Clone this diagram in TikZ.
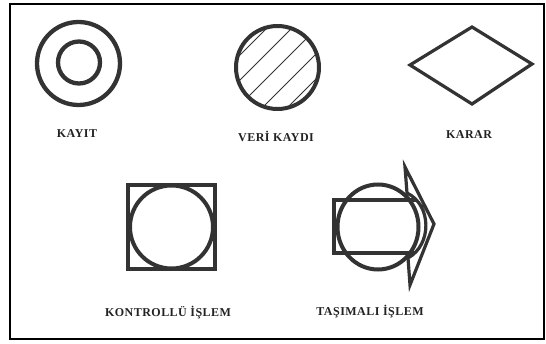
\documentclass[tikz,border=0pt]{standalone}
\usepackage{fontspec}
\setmainfont{Liberation Serif}
\definecolor{ink}{HTML}{333333}
\definecolor{txt}{HTML}{222222}
\begin{document}
\begin{tikzpicture}[x=1pt,y=-1pt,
  shp/.style={draw=ink, line width=4pt},
  thinshp/.style={draw=ink, line width=3.2pt, line join=miter},
  hatch/.style={draw=ink, line width=0.8pt},
  lbl/.style={font=\bfseries\fontsize{12}{13}\selectfont\addfontfeature{LetterSpace=4}, text=txt, inner sep=0pt}]
\useasboundingbox (0,0) rectangle (546,344);
\draw[line width=1.8pt, draw=black] (10,4) rectangle (544,339);

% KAYIT
\draw[shp, line width=4.3pt] (78.5,63.5) circle[radius=41.5pt];
\draw[shp, line width=4.3pt] (79,62.5) circle[radius=21pt];
\node[lbl] (kayit) at (77,134) {KAYIT};

% VERI KAYDI
\begin{scope}
  \clip (277.5,67.5) circle[radius=41.5pt];
  \foreach \k in {-3,...,3} {
    \draw[hatch] ({277.5+\k*12.5-70},{67.5+\k*12.5+70}) -- ({277.5+\k*12.5+70},{67.5+\k*12.5-70});
  }
\end{scope}
\draw[shp] (277.5,67.5) circle[radius=41.5pt];
\node[lbl] (veri) at (276,136) {VERİ KAYDI};

% KARAR
\draw[thinshp] (410,65) -- (472,27) -- (532,64) -- (472,104) -- cycle;
\node[lbl] (karar) at (469,135) {KARAR};

% KONTROLLU ISLEM
\draw[shp, line join=miter] (128,185) rectangle (215,269);
\draw[shp] (171.5,227) circle[radius=41.5pt];
\node[lbl] (kontrol) at (168,313) {KONTROLLÜ İŞLEM};

% TASIMALI ISLEM
\draw[shp] (378,227) ellipse[x radius=40.5pt, y radius=42.5pt];
\draw[thinshp] (416,200) -- (334,200) -- (334,253) -- (415,253);
\draw[thinshp] (405,167) -- (434,224) -- (410,285) -- (408,258)
  .. controls (432,245) and (432,205) .. (407,193) -- cycle;
\node[lbl] (tasima) at (370,312) {TAŞIMALI İŞLEM};
\end{tikzpicture}
\end{document}
